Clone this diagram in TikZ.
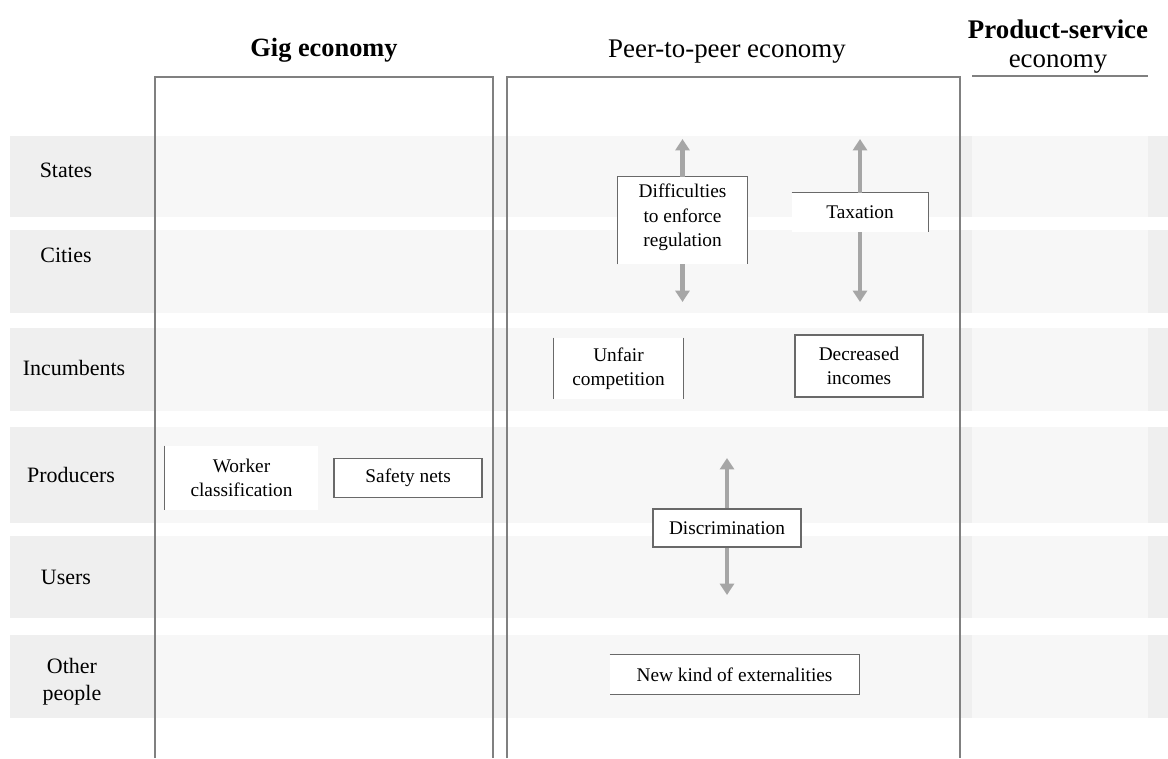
\documentclass[tikz,border=0pt]{standalone}
\usepackage{fontspec}
\setmainfont{Liberation Serif}
\usetikzlibrary{arrows.meta,positioning}
\definecolor{bandgray}{RGB}{239,239,239}
\definecolor{framegray}{RGB}{128,128,128}
\definecolor{boxgray}{RGB}{105,105,105}
\definecolor{arrgray}{RGB}{166,166,166}

\begin{document}
\begin{tikzpicture}[
x=0.02cm, y=-0.02cm,
head/.style={font=\fontsize{15.3}{16.5}\selectfont, align=center},
headb/.style={font=\fontsize{15}{16.5}\selectfont\bfseries, align=center},
rowlab/.style={font=\fontsize{12.5}{15.4}\selectfont, align=center},
box/.style={fill=white, inner sep=0pt, font=\fontsize{11}{13.7}\selectfont, align=center},
fullbox/.style={box, draw=boxgray, line width=0.9pt},
bline/.style={draw=boxgray, line width=0.9pt},
colframe/.style={draw=framegray, line width=1.1pt},
arr/.style={-{Triangle[width=8pt,length=6.5pt]}, draw=arrgray, fill=arrgray, line width=2.4pt}
]
\useasboundingbox (0,0) rectangle (1168,758);
\foreach \t/\b in {136/217,230/313,328/411,427/523,536/618,635/718}
  \fill[bandgray] (10,\t) rectangle (1168,\b);
\fill[white, opacity=.55] (155,77) rectangle (493,758);
\fill[white, opacity=.55] (507,77) rectangle (960,758);
\fill[white, opacity=.55] (972,77) rectangle (1148,758);
\draw[colframe] (155,758) -- (155,77) -- (493,77) -- (493,758);
\draw[colframe] (507,758) -- (507,77) -- (960,77) -- (960,758);
\draw[colframe] (972,76) -- (1148,76);

\node[headb] (hgig) at (324,50) {Gig economy};
\node[head] (hp2p) at (727,52) {Peer-to-peer economy};
\node[head] (hpss) at (1058,47) {\textbf{Product-service}\\economy};

\node[rowlab] (lstates) at (66,170) {States};
\node[rowlab] (lcities) at (66,255) {Cities};
\node[rowlab] (lincumb) at (74,368) {Incumbents};
\node[rowlab] (lprod) at (71,475) {Producers};
\node[rowlab] (lusers) at (66,577) {Users};
\node[rowlab] (lother) at (72,682) {Other\\people};

\node[box, minimum width=3.06cm, minimum height=1.28cm] (worker) at (241.5,478) {Worker\\classification};
\draw[bline] (worker.north west) -- (worker.south west);
\node[fullbox, minimum width=2.96cm, minimum height=0.78cm, right=0.3cm of worker] (safety) {Safety nets};

\node[box, minimum width=2.58cm, minimum height=1.74cm, text depth=6pt] (diff) at (682.5,220.5) {Difficulties\\to enforce\\regulation};
\draw[bline] (diff.south west) -- (diff.north west) -- (diff.north east) -- (diff.south east);
\coordinate (diffup) at (682.5,139);
\coordinate (diffdn) at (682.5,302);
\draw[arr] (diff.north) -- (diffup);
\draw[arr] (diff.south) -- (diffdn);

\node[box, minimum width=2.72cm, minimum height=0.78cm] (tax) at (860,212.5) {Taxation};
\draw[bline] (tax.north west) -- (tax.north east) -- (tax.south east);
\coordinate (taxup) at (860,139);
\coordinate (taxdn) at (860,302);
\draw[arr] (tax.north) -- (taxup);
\draw[arr] (tax.south) -- (taxdn);

\node[box, minimum width=2.58cm, minimum height=1.22cm] (unfair) at (618.5,368.5) {Unfair\\competition};
\draw[bline] (unfair.north west) -- (unfair.south west);
\draw[bline] (unfair.north east) -- (unfair.south east);
\node[fullbox, minimum width=2.56cm, minimum height=1.24cm] (income) at (859,366) {Decreased\\incomes};

\node[fullbox, minimum width=2.96cm, minimum height=0.76cm] (discr) at (727,528) {Discrimination};
\coordinate (discrup) at (727,458);
\coordinate (discrdn) at (727,595);
\draw[arr] (discr.north) -- (discrup);
\draw[arr] (discr.south) -- (discrdn);

\node[box, minimum width=4.98cm, minimum height=0.78cm] (extern) at (734.5,674.5) {New kind of externalities};
\draw[bline] (extern.north west) -- (extern.north east) -- (extern.south east) -- (extern.south west);
\end{tikzpicture}
\end{document}
